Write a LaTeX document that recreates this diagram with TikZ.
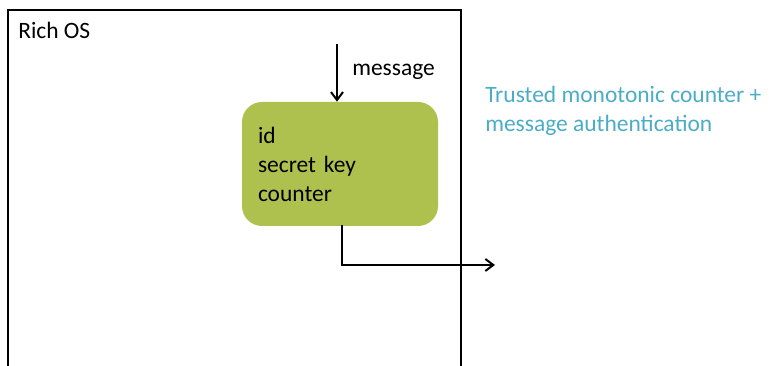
\documentclass[tikz,border=0pt]{standalone}
\usepackage{fontspec}
\setmainfont{Carlito}
\usetikzlibrary{arrows.meta, positioning}
\definecolor{keygreen}{HTML}{AEC14F}
\definecolor{notecolor}{HTML}{4BACC6}
\definecolor{linecolor}{HTML}{000000}

\begin{document}
\begin{tikzpicture}[
    x=0.75pt, y=-0.75pt,
    >={Straight Barb[length=6pt, width=9pt, line width=1.5pt]},
    font=\fontsize{17.6pt}{21.75pt}\selectfont,
    frame/.style={draw=linecolor, line width=0.8pt},
    keybox/.style={fill=keygreen, rounded corners=15pt, minimum width=147pt, minimum height=93pt, text width=123pt, align=left, inner xsep=12pt},
    flow/.style={->, draw=linecolor, line width=1.6pt}
]
    \useasboundingbox (0,0) rectangle (769,366);

    % Rich OS frame (open at the bottom)
    \draw[frame] (8,367) -- (8,10) -- (461,10) -- (461,367);
    \node[anchor=west, inner sep=0pt] (richos) at (18,30) {Rich OS};

    % Key store
    \node[keybox] (key) at (340,164) {id\\secret key\\counter};

    % Incoming message
    \coordinate (msgin) at (337,44);
    \draw[flow] (msgin) -- (msgin |- key.north);
    \node[anchor=west, inner sep=0pt] (msg) at (352,72) {message};

    % Output
    \coordinate (out) at (495,265);
    \draw[flow, line cap=rect] ([xshift=1.5pt]key.south) |- (out);

    % Note
    \node[notecolor, anchor=west, align=left, inner sep=0pt] (note) at (485,111) {Trusted monotonic counter +\\message authentication};

\end{tikzpicture}
\end{document}
